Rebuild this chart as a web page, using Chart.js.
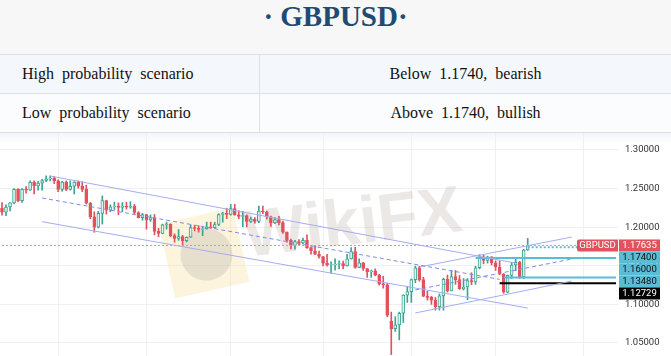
<!DOCTYPE html>
<html>
<head>
<meta charset="utf-8">
<script src="https://cdn.jsdelivr.net/npm/chart.js@4/dist/chart.umd.min.js"></script>
<style>
  html, body { margin: 0; padding: 0; background: #fff; }
  #page { width: 671px; height: 356px; overflow: hidden; position: relative; }
  #title {
    height: 54px; line-height: 50px; background: #f7f7f7; text-align: center;
    font: bold 29px "Liberation Serif", serif; color: #1f4b73;
    border-bottom: 1px solid #dde1e6;
  }
  .row { height: 38px; display: flex; border-bottom: 1px solid #dde1e6;
         font: 16px "Liberation Serif", serif; color: #111; word-spacing: 4px; }
  .r1 { background: #f4f8fc; }
  .r2 { background: #fbfcfe; }
  .c1 { width: 260px; box-sizing: border-box; padding-left: 22px; border-right: 1px solid #dde1e6;
        display: flex; align-items: center; }
  .c2 { flex: 1; display: flex; align-items: center; justify-content: center; }
  #wrap { position: absolute; left: 0; top: 133px; width: 671px; height: 223px;
          background: linear-gradient(#f2f5f9, #ffffff 12px); }
</style>
</head>
<body>
<div id="page">
  <div id="title">· GBPUSD·</div>
  <div class="row r1"><div class="c1">High probability scenario</div><div class="c2">Below 1.1740, bearish</div></div>
  <div class="row r2"><div class="c1">Low probability scenario</div><div class="c2">Above 1.1740, bullish</div></div>
  <div id="wrap"><canvas id="chart"></canvas></div>
</div>
<script>
// daily GBPUSD candles, 12 May - 11 Nov 2022
const opens = [
  1.2245, 1.2195, 1.2262, 1.2315, 1.2490, 1.2345, 1.2490, 1.2480, 1.2580, 1.2535,
  1.2570, 1.2605, 1.2625, 1.2635, 1.2600, 1.2490, 1.2585, 1.2490, 1.2530, 1.2585,
  1.2530, 1.2490, 1.2310, 1.2135, 1.2000, 1.2180, 1.2345, 1.2220, 1.2265, 1.2275,
  1.2255, 1.2270, 1.2260, 1.2270, 1.2190, 1.2125, 1.2165, 1.2095, 1.2125, 1.1945,
  1.1920, 1.2030, 1.2040, 1.1890, 1.1855, 1.1880, 1.1825, 1.1870, 1.1995, 1.1985,
  1.1970, 1.1980, 1.2005, 1.1995, 1.2035, 1.2165, 1.2180, 1.2165, 1.2240, 1.2160,
  1.2140, 1.2150, 1.2075, 1.2105, 1.2075, 1.2210, 1.2200, 1.2135, 1.2055, 1.2100,
  1.2060, 1.1935, 1.1830, 1.1765, 1.1815, 1.1795, 1.1830, 1.1735, 1.1695, 1.1650,
  1.1620, 1.1535, 1.1510, 1.1515, 1.1520, 1.1530, 1.1500, 1.1590, 1.1685, 1.1480,
  1.1540, 1.1465, 1.1420, 1.1435, 1.1380, 1.1265, 1.1255, 1.0780, 1.0685, 1.0735,
  1.0885, 1.1120, 1.1165, 1.1320, 1.1475, 1.1320, 1.1105, 1.1090, 1.1055, 1.0970,
  1.1110, 1.1325, 1.1175, 1.1360, 1.1320, 1.1205, 1.1225, 1.1310, 1.1290, 1.1475,
  1.1615, 1.1570, 1.1615, 1.1540, 1.1485, 1.1390, 1.1160, 1.1375, 1.1510, 1.1545,
  1.1355, 1.1705
];
const highs = [
  1.2318, 1.2290, 1.2318, 1.2500, 1.2500, 1.2500, 1.2525, 1.2600, 1.2600, 1.2595,
  1.2620, 1.2667, 1.2666, 1.2660, 1.2615, 1.2595, 1.2600, 1.2600, 1.2590, 1.2600,
  1.2590, 1.2545, 1.2320, 1.2200, 1.2205, 1.2406, 1.2350, 1.2290, 1.2325, 1.2315,
  1.2320, 1.2325, 1.2330, 1.2295, 1.2200, 1.2180, 1.2165, 1.2160, 1.2165, 1.1985,
  1.2040, 1.2065, 1.2045, 1.1915, 1.1970, 1.1895, 1.1875, 1.2030, 1.2020, 1.2020,
  1.2000, 1.2065, 1.2065, 1.2065, 1.2175, 1.2195, 1.2245, 1.2295, 1.2295, 1.2215,
  1.2205, 1.2160, 1.2130, 1.2125, 1.2275, 1.2275, 1.2210, 1.2145, 1.2125, 1.2140,
  1.2080, 1.1940, 1.1845, 1.1830, 1.1840, 1.1860, 1.1900, 1.1745, 1.1760, 1.1690,
  1.1620, 1.1650, 1.1550, 1.1590, 1.1565, 1.1560, 1.1650, 1.1735, 1.1740, 1.1590,
  1.1545, 1.1465, 1.1445, 1.1460, 1.1390, 1.1365, 1.1275, 1.0900, 1.0840, 1.0900,
  1.1125, 1.1235, 1.1330, 1.1495, 1.1495, 1.1350, 1.1170, 1.1105, 1.1090, 1.1135,
  1.1340, 1.1380, 1.1440, 1.1440, 1.1375, 1.1335, 1.1335, 1.1410, 1.1495, 1.1645,
  1.1640, 1.1625, 1.1620, 1.1565, 1.1565, 1.1400, 1.1380, 1.1545, 1.1600, 1.1560,
  1.1715, 1.1855
];
const lows = [
  1.2156, 1.2150, 1.2210, 1.2300, 1.2330, 1.2320, 1.2440, 1.2475, 1.2430, 1.2480,
  1.2480, 1.2590, 1.2600, 1.2565, 1.2460, 1.2465, 1.2475, 1.2480, 1.2430, 1.2505,
  1.2460, 1.2300, 1.2110, 1.1934, 1.1990, 1.2040, 1.2170, 1.2200, 1.2230, 1.2160,
  1.2200, 1.2235, 1.2245, 1.2160, 1.2120, 1.2090, 1.1975, 1.2075, 1.1900, 1.1875,
  1.1915, 1.1975, 1.1875, 1.1805, 1.1830, 1.1760, 1.1810, 1.1865, 1.1950, 1.1935,
  1.1890, 1.1975, 1.1985, 1.1985, 1.2020, 1.2065, 1.2110, 1.2155, 1.2155, 1.2110,
  1.2005, 1.2005, 1.2060, 1.2050, 1.2060, 1.2175, 1.2105, 1.2010, 1.2045, 1.2030,
  1.1920, 1.1805, 1.1720, 1.1715, 1.1775, 1.1780, 1.1725, 1.1650, 1.1645, 1.1600,
  1.1500, 1.1495, 1.1405, 1.1445, 1.1460, 1.1460, 1.1495, 1.1585, 1.1470, 1.1475,
  1.1440, 1.1350, 1.1350, 1.1370, 1.1250, 1.1210, 1.0840, 1.0350, 1.0650, 1.0540,
  1.0765, 1.1025, 1.1025, 1.1280, 1.1300, 1.1100, 1.1055, 1.1000, 1.0925, 1.0925,
  1.0925, 1.1160, 1.1175, 1.1260, 1.1195, 1.1185, 1.1060, 1.1255, 1.1260, 1.1460,
  1.1525, 1.1535, 1.1510, 1.1440, 1.1385, 1.1145, 1.1150, 1.1335, 1.1435, 1.1335,
  1.1335, 1.1700
];
const closes = [
  1.2195, 1.2262, 1.2315, 1.2490, 1.2345, 1.2490, 1.2480, 1.2580, 1.2535, 1.2570,
  1.2605, 1.2625, 1.2635, 1.2600, 1.2490, 1.2585, 1.2490, 1.2530, 1.2585, 1.2530,
  1.2490, 1.2310, 1.2135, 1.2000, 1.2180, 1.2345, 1.2220, 1.2265, 1.2275, 1.2255,
  1.2270, 1.2260, 1.2270, 1.2190, 1.2125, 1.2165, 1.2095, 1.2125, 1.1945, 1.1920,
  1.2030, 1.2040, 1.1890, 1.1855, 1.1880, 1.1825, 1.1870, 1.1995, 1.1985, 1.1970,
  1.1980, 1.2005, 1.1995, 1.2035, 1.2165, 1.2180, 1.2165, 1.2240, 1.2160, 1.2140,
  1.2150, 1.2075, 1.2105, 1.2075, 1.2210, 1.2200, 1.2135, 1.2055, 1.2100, 1.2060,
  1.1935, 1.1830, 1.1765, 1.1815, 1.1795, 1.1830, 1.1735, 1.1695, 1.1650, 1.1620,
  1.1535, 1.1510, 1.1515, 1.1520, 1.1530, 1.1500, 1.1590, 1.1685, 1.1480, 1.1540,
  1.1465, 1.1420, 1.1435, 1.1380, 1.1265, 1.1255, 1.0860, 1.0685, 1.0735, 1.0885,
  1.1120, 1.1165, 1.1320, 1.1475, 1.1320, 1.1105, 1.1090, 1.1055, 1.0970, 1.1110,
  1.1325, 1.1175, 1.1360, 1.1320, 1.1205, 1.1225, 1.1310, 1.1290, 1.1475, 1.1615,
  1.1570, 1.1615, 1.1540, 1.1485, 1.1390, 1.1160, 1.1375, 1.1510, 1.1545, 1.1355,
  1.1705, 1.17635
];

const yTicks = [1.05, 1.10, 1.15, 1.20, 1.25, 1.30];
const lastPrice = 1.17635;
const levels = [1.1740, 1.1600, 1.1348, 1.12729];
const levelStart = [131, 118, 125, 124];   // candle index where each level is drawn from

// channel lines: [startIndex, startPrice, endIndex, endPrice]
const downUpper = [12, 1.2663, 128, 1.1535];
const downMid   = [10, 1.2378, 124, 1.1324];
const downLower = [10, 1.2071, 131, 1.0953];
const upUpper   = [104, 1.1484, 142, 1.1873];
const upMid     = [103, 1.1187, 142, 1.1588];
const upLower   = [103, 1.0889, 142, 1.1303];

// trading days, with empty space on the right of the last candle
const labels = [];
const d = new Date(Date.UTC(2022, 4, 12));
while (labels.length < 154) {
  const wd = d.getUTCDay();
  if (wd !== 0 && wd !== 6) labels.push(d.toISOString().slice(0, 10));
  d.setUTCDate(d.getUTCDate() + 1);
}
const monthStarts = labels.map((l, i) => i > 0 && l.slice(5, 7) !== labels[i - 1].slice(5, 7) ? i : -1)
  .filter(i => i >= 0);

const upColor = '#3ba593';
const upFill = '#e4f4f0';
const downColor = '#e2525d';
const bull = closes.map((c, i) => c >= opens[i]);

function seg(s, color, dash) {
  return {
    type: 'line',
    data: [{ x: labels[s[0]], y: s[1] }, { x: labels[s[2]], y: s[3] }],
    borderColor: color, borderWidth: 1, borderDash: dash || [],
    pointRadius: 0, fill: false, order: 0
  };
}
function level(i, color, width, dash) {
  return {
    type: 'line',
    data: [{ x: labels[levelStart[i]], y: levels[i] }, { x: labels[labels.length - 1], y: levels[i] }],
    borderColor: color, borderWidth: width, borderDash: dash || [],
    pointRadius: 0, fill: false, order: 0
  };
}

const watermark = {
  id: 'watermark',
  beforeDatasetsDraw(chart) {
    const c = chart.ctx;
    c.save();
    c.translate(204, 120);
    c.rotate(-0.22);
    c.fillStyle = 'rgba(248, 222, 150, 0.32)';
    c.fillRect(-38, -38, 76, 76);
    c.fillStyle = 'rgba(150, 150, 150, 0.22)';
    c.beginPath(); c.arc(2, 2, 26, 0, Math.PI * 2); c.fill();
    c.restore();
    c.save();
    c.translate(246, 124);
    c.rotate(-0.12);
    c.font = 'bold 66px "Liberation Sans"';
    c.fillStyle = 'rgba(190, 180, 170, 0.30)';
    c.fillText('WikiFX', 0, 0);
    c.restore();
  }
};

const priceTags = {
  id: 'priceTags',
  afterDraw(chart) {
    const c = chart.ctx, ys = chart.scales.y, area = chart.chartArea;
    const tags = [{ v: lastPrice, bg: downColor, fg: '#fff' }]
      .concat(levels.map((v, i) => ({ v, bg: i === 3 ? '#000' : '#5bbdd5', fg: i === 3 ? '#fff' : '#111' })));
    tags.sort((a, b) => b.v - a.v);
    const h = 12, x0 = area.right + 1, w = 41;
    let prevBottom = -1e9;
    c.save();
    c.font = '9.5px Roboto';
    c.textBaseline = 'middle';
    c.textAlign = 'center';
    tags.forEach(t => {
      const top = Math.max(ys.getPixelForValue(t.v) - h / 2, prevBottom);
      prevBottom = top + h;
      c.fillStyle = t.bg;
      c.fillRect(x0, top, w, h);
      c.fillStyle = t.fg;
      c.fillText(t.v.toFixed(5), x0 + w / 2, top + h / 2 + 0.5);
      if (t.v === lastPrice) {
        c.fillStyle = downColor;
        c.beginPath();
        c.roundRect(area.right - 41, top, 41, h, [2, 0, 0, 2]);
        c.fill();
        c.fillStyle = '#fff';
        c.fillText('GBPUSD', area.right - 20.5, top + h / 2 + 0.5);
      }
    });
    c.restore();
  }
};

const ctx = document.getElementById('chart').getContext('2d');
new Chart(ctx, {
  type: 'bar',
  data: {
    labels: labels,
    datasets: [
      seg(downUpper, '#a4acf0'), seg(downMid, '#7f8be8', [4, 3]), seg(downLower, '#a4acf0'),
      seg(upUpper, '#a4acf0'), seg(upMid, '#7f8be8', [4, 3]), seg(upLower, '#a4acf0'),
      {
        type: 'line',
        data: [{ x: labels[0], y: lastPrice }, { x: labels[labels.length - 1], y: lastPrice }],
        borderColor: '#ee8a90', borderWidth: 1, borderDash: [2, 2], pointRadius: 0, order: 0
      },
      level(0, '#5bbdd5', 2, [2, 2]), level(1, '#5bbdd5', 2), level(2, '#5bbdd5', 2), level(3, '#000', 2),
      {
        label: 'body',
        data: opens.map((o, i) => [o, closes[i]]),
        backgroundColor: bull.map(b => b ? upFill : downColor),
        borderColor: bull.map(b => b ? upColor : downColor),
        borderWidth: 1, borderSkipped: false, barThickness: 3, grouped: false, order: 1
      },
      {
        label: 'wick',
        data: lows.map((l, i) => [l, highs[i]]),
        backgroundColor: bull.map(b => b ? upColor : downColor),
        barThickness: 1, grouped: false, order: 2
      }
    ]
  },
  options: {
    responsive: true,
    maintainAspectRatio: false,
    animation: false,
    layout: { padding: 0 },
    plugins: { legend: { display: false }, tooltip: { enabled: false } },
    scales: {
      x: {
        type: 'category',
        offset: true,
        ticks: { display: false },
        border: { display: false },
        grid: {
          offset: false, drawTicks: false,
          color: c => monthStarts.includes(c.index) ? '#eef0f4' : 'rgba(0,0,0,0)'
        }
      },
      y: {
        position: 'right',
        min: 1.03316,
        max: 1.32202,
        afterBuildTicks: s => { s.ticks = yTicks.map(v => ({ value: v })); },
        afterFit: s => { s.width = 53; s.paddingTop = 0; s.paddingBottom = 0; },
        border: { display: false },
        grid: { color: '#eef0f4', drawTicks: false },
        ticks: {
          padding: 7,
          color: '#333',
          font: { family: 'Roboto', size: 9.5 },
          callback: v => Number(v).toFixed(5)
        }
      }
    }
  },
  plugins: [watermark, priceTags]
});
</script>
</body>
</html>
